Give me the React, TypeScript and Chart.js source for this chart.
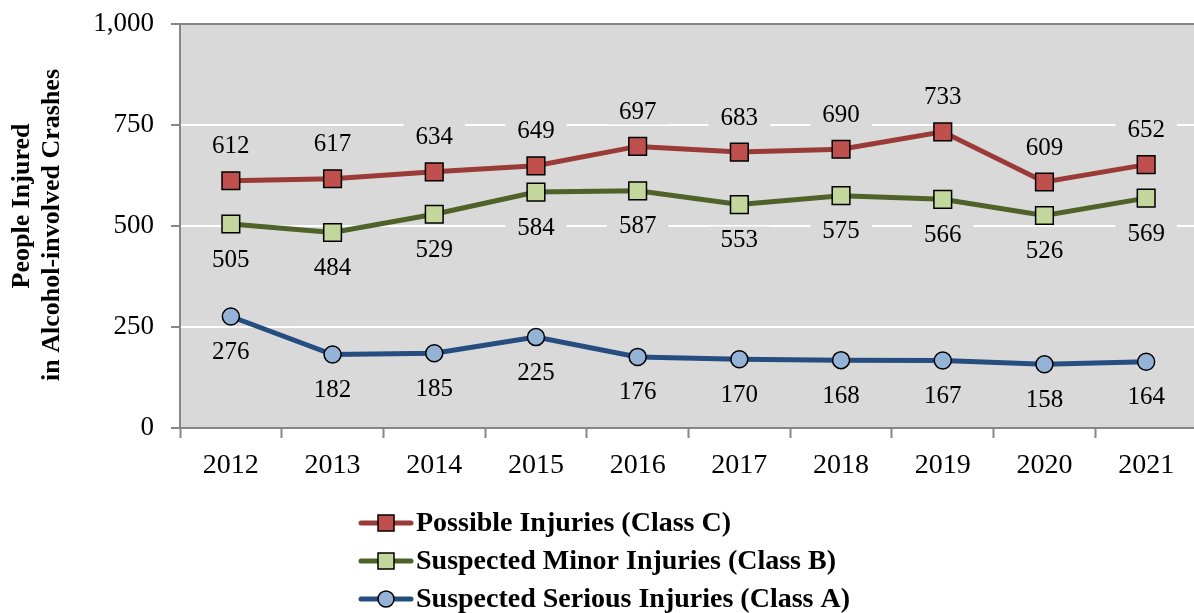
import React, { useEffect, useRef } from "react";
import { Chart, registerables } from "chart.js";

Chart.register(...registerables);

const years = ["2012", "2013", "2014", "2015", "2016", "2017", "2018", "2019", "2020", "2021"];
const classC = [612, 617, 634, 649, 697, 683, 690, 733, 609, 652];
const classB = [505, 484, 529, 584, 587, 553, 575, 566, 526, 569];
const classA = [276, 182, 185, 225, 176, 170, 168, 167, 158, 164];
const seriesNames = [
  "Possible Injuries (Class C)",
  "Suspected Minor Injuries (Class B)",
  "Suspected Serious Injuries (Class A)",
];
const yTitle = ["People Injured", "in Alcohol-involved Crashes"];

const GRAY_BG = "#d9d9d9";
const AXIS = "#868686";
const SERIF = "'Liberation Serif', 'Times New Roman', serif";

const styles = [
  { line: "#9a3b38", fill: "#c0504d", style: "rect", labelPos: "above" },
  { line: "#4f6228", fill: "#c3d69b", style: "rect", labelPos: "below" },
  { line: "#254d80", fill: "#95b3d7", style: "circle", labelPos: "below" },
];

const bgPlugin = {
  id: "bgPlugin",
  beforeDraw(chart: any) {
    const { ctx, chartArea } = chart;
    ctx.save();
    ctx.fillStyle = GRAY_BG;
    ctx.fillRect(chartArea.left, chartArea.top, chartArea.right - chartArea.left, chartArea.bottom - chartArea.top);
    ctx.restore();
  },
};

function labelItems(chart: any) {
  const items: any[] = [];
  chart.data.datasets.forEach((ds: any, di: number) => {
    const meta = chart.getDatasetMeta(di);
    meta.data.forEach((pt: any, i: number) => {
      const off = styles[di].labelPos === "above" ? -35 : 35;
      items.push({ x: pt.x, y: pt.y + off, text: String(ds.data[i]) });
    });
  });
  return items;
}

const LABEL_FONT = `25px ${SERIF}`;

const labelPlugin = {
  id: "labelPlugin",
  beforeDatasetsDraw(chart: any) {
    const { ctx } = chart;
    ctx.save();
    ctx.font = LABEL_FONT;
    ctx.fillStyle = GRAY_BG;
    labelItems(chart).forEach((it) => {
      const w = ctx.measureText(it.text).width;
      ctx.fillRect(it.x - w / 2 - 12, it.y - 13, w + 24, 26);
    });
    ctx.restore();
  },
  afterDatasetsDraw(chart: any) {
    const { ctx } = chart;
    ctx.save();
    ctx.font = LABEL_FONT;
    ctx.fillStyle = "#000";
    ctx.textAlign = "center";
    ctx.textBaseline = "middle";
    labelItems(chart).forEach((it) => {
      ctx.fillText(it.text, it.x, it.y + 1);
    });
    ctx.restore();
  },
};

const extrasPlugin = {
  id: "extrasPlugin",
  afterDraw(chart: any) {
    const { ctx } = chart;
    ctx.save();
    // y-axis title
    ctx.font = `bold 26px ${SERIF}`;
    ctx.fillStyle = "#000";
    ctx.textAlign = "center";
    ctx.textBaseline = "middle";
    ctx.translate(37, 225);
    ctx.rotate(-Math.PI / 2);
    ctx.fillText(yTitle[0], 19, -15);
    ctx.fillText(yTitle[1], 0, 15);
    ctx.restore();

    // legend
    ctx.save();
    const rowsY = [523, 561, 599];
    seriesNames.forEach((name, i) => {
      const s = styles[i];
      const y = rowsY[i];
      ctx.strokeStyle = s.line;
      ctx.lineWidth = 5;
      ctx.lineCap = "round";
      ctx.beginPath();
      ctx.moveTo(361, y);
      ctx.lineTo(411, y);
      ctx.stroke();
      ctx.fillStyle = s.fill;
      ctx.strokeStyle = "#000";
      ctx.lineWidth = 1.5;
      if (s.style === "rect") {
        ctx.beginPath();
        ctx.rect(386 - 8, y - 8, 16, 16);
        ctx.fill();
        ctx.stroke();
      } else {
        ctx.beginPath();
        ctx.arc(386, y, 8, 0, Math.PI * 2);
        ctx.fill();
        ctx.stroke();
      }
      ctx.fillStyle = "#000";
      ctx.font = `bold 28px ${SERIF}`;
      ctx.textAlign = "left";
      ctx.textBaseline = "middle";
      ctx.fillText(name, 416, y + 1);
    });
    ctx.restore();
  },
};

const CANVAS_W = 1211;

export default function App() {
  const ref = useRef<HTMLCanvasElement>(null);
  useEffect(() => {
    if (!ref.current) return;
    const data = [classC, classB, classA];
    const chart = new Chart(ref.current, {
      type: "line",
      data: {
        labels: years,
        datasets: data.map((d, i) => ({
          label: seriesNames[i],
          data: d,
          borderColor: styles[i].line,
          borderWidth: 5,
          pointStyle: styles[i].style as any,
          pointRadius: styles[i].style === "rect" ? 12.5 : 8.5,
          pointHoverRadius: styles[i].style === "rect" ? 12.5 : 8.5,
          pointBackgroundColor: styles[i].fill,
          pointBorderColor: "#000",
          pointBorderWidth: 1.5,
          tension: 0,
          fill: false,
        })),
      },
      options: {
        animation: false,
        responsive: false,
        maintainAspectRatio: false,
        layout: { padding: { top: 24, right: 2, bottom: 0, left: 0 } },
        plugins: {
          legend: { display: false },
          tooltip: { enabled: false },
          title: { display: false },
        },
        scales: {
          x: {
            offset: true,
            afterFit(scale: any) {
              scale.height = 185;
              scale.paddingLeft = 0;
              scale.paddingRight = 0;
            },
            grid: {
              offset: true,
              drawOnChartArea: false,
              drawTicks: true,
              tickLength: 10,
              tickColor: AXIS,
              tickWidth: 2,
            },
            border: { color: AXIS, width: 2 },
            ticks: {
              color: "#000",
              font: { family: SERIF, size: 28 },
              padding: 11,
              maxRotation: 0,
            },
          },
          y: {
            min: 0,
            max: 1000,
            afterFit(scale: any) {
              scale.width = 180;
              scale.paddingTop = 0;
              scale.paddingBottom = 0;
            },
            grid: {
              color: (c: any) => (c.tick && c.tick.value === 1000 ? AXIS : "#ffffff"),
              lineWidth: 2,
              tickColor: AXIS,
              tickLength: 9,
              tickWidth: 2,
            },
            border: { color: AXIS, width: 2 },
            ticks: {
              stepSize: 250,
              color: "#000",
              font: { family: SERIF, size: 27 },
              padding: 17,
            },
          },
        },
      },
      plugins: [bgPlugin, labelPlugin, extrasPlugin],
    });
    return () => chart.destroy();
  }, []);
  return (
    <div style={{ position: "fixed", left: 0, top: 0, width: 1194, height: 613, overflow: "hidden", background: "#fff" }}>
      <canvas ref={ref} width={CANVAS_W} height={613} style={{ width: CANVAS_W, height: 613, display: "block" }} />
    </div>
  );
}
